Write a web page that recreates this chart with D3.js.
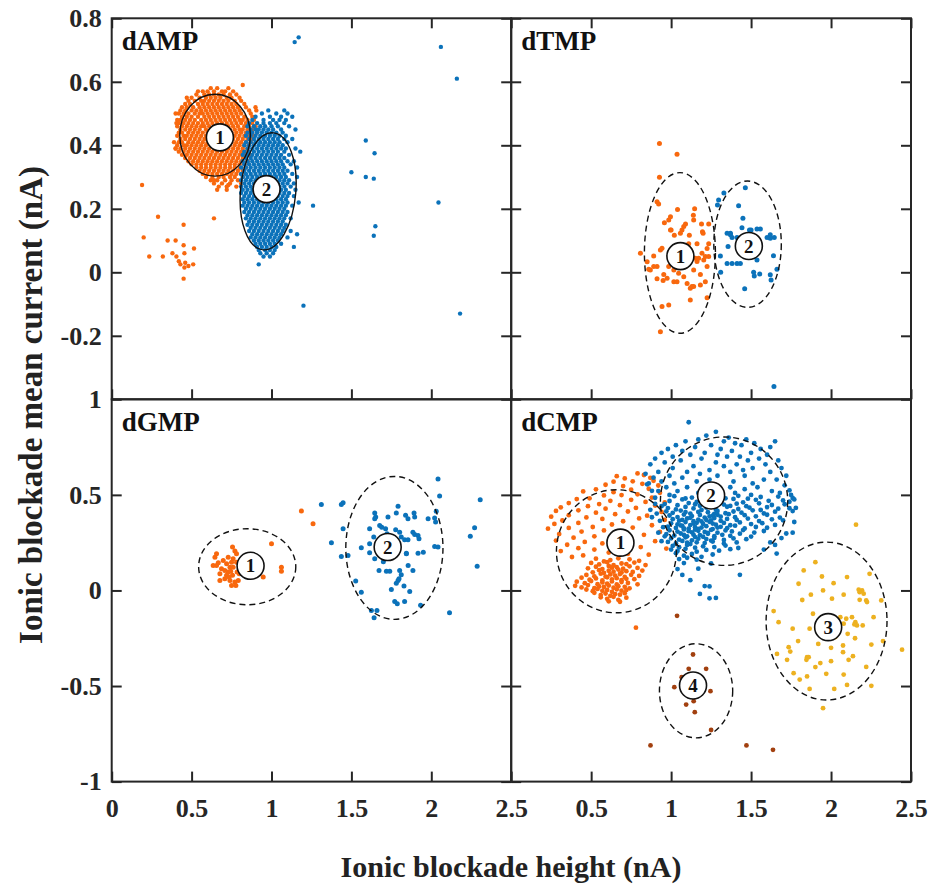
<!DOCTYPE html>
<html><head><meta charset="utf-8">
<script src="https://cdn.jsdelivr.net/npm/d3@7"></script>
<style>body{margin:0;background:#fff}svg{display:block}</style>
</head><body>
<svg id="chart" width="933" height="886"></svg>
<script>
// ---------------- DATA (all values in units of 0.01 nA) ----------------
// "rows" arrays: [y, x1, x2, ...];  "pairs" arrays: [x, y]
const panelNames = ["dAMP", "dTMP", "dGMP", "dCMP"];
const xTickLabels = [0, 0.5, 1, 1.5, 2, 2.5];
const yTickLabelsTop = [0.8, 0.6, 0.4, 0.2, 0, -0.2];
const yTickLabelsBottom = [1, 0.5, 0, -0.5, -1];
const xLabel = "Ionic blockade height (nA)";
const yLabel = "Ionic blockade mean current (nA)";

const dAMP_1_rows = [
 [58,62,66,73],[57,57,60,64,69,71,76],[56,53,58,61,64,67,70,74,78],[55,50,55,59,62,65,68,72,75,80],
 [54,48,52,56,58,61,64,67,70,73,77,81],[53,46,49,54,57,60,63,66,69,72,75,78,83],
 [52,44,47,51,55,58,61,64,67,70,73,76,79,84],[51,43,46,50,53,56,59,62,65,68,71,74,77,80,86],
 [50,42,45,48,52,55,57,60,63,66,69,72,75,78,81,87],[49,44,47,50,54,58,61,64,67,70,73,76,79,83,88],
 [48,41,43,46,49,52,56,59,62,65,68,71,74,77,80,82,85,89],[47,42,45,48,51,54,57,60,63,66,69,72,75,78,81,84,88],
 [46,41,44,47,50,53,56,58,61,64,67,70,73,76,79,83,86,90],[45,43,46,49,52,55,59,62,65,68,71,74,77,80,82,85,88],
 [44,42,44,48,51,54,57,60,63,66,69,72,75,78,81,84,87,91],[43,41,45,47,50,53,56,59,62,65,68,71,74,77,80,83,86,89],
 [42,43,46,49,52,55,58,61,64,67,70,73,76,79,82,85,88],[41,42,44,48,51,54,57,60,63,66,69,72,75,78,81,84,87],
 [40,41,45,47,50,53,56,59,62,65,68,71,74,77,80,83,86],[39,40,43,46,49,52,55,58,61,64,67,70,73,76,79,82,85],
 [38,42,45,48,51,54,57,60,63,66,69,72,75,78,81,84],[37,44,47,50,53,56,59,62,65,68,71,74,77,80,83],
 [36,46,49,52,55,58,61,64,67,70,73,76,79,82],[35,48,51,54,57,60,63,66,69,72,75,78,81,85],
 [34,50,53,56,59,62,65,68,71,74,77,80,83],[33,53,56,59,62,65,68,71,74,77,80,84],
 [32,55,58,61,64,67,70,73,76,79,82],[31,57,60,63,66,69,72,75,78,81],[30,59,63,67,70,74,77,82],
 [29,62,66,71,75,79],[28,64,69,74,81],[27,67,72,78],
 [27.5,19],[11,20],[17.5,29],[5,23.5,32],[10,35,40],[6,38,45.5],[5,40.5],[15,45],[8.5,45],[7.5,51.5],
 [3.5,42],[2.5,43,51],[3,46],[2,48],[1.5,45.5],[-2,45],[17,64],[59,82],[52,90],[51,90.5],[26,66,72],
 [27.5,73],[29,64],[39,40],[41,39],[47,40.5],[50,40],[55,47],[57,54],[35,85],[37,87]
];
const dAMP_2_rows = [
 [51,98,108],[50,94,103,110],[49,90,99,106,113],[48,88,95,101,105,109],[47,86,91,95,99,103,108],
 [46,85,89,93,96,100,104,111],[45,87,90,92,95,98,101,106,115],[44,85,88,91,94,97,100,103,107],
 [43,84,87,90,93,96,99,102,105,109],[42,86,89,92,95,98,101,104,108,113],[41,84,87,90,93,96,99,102,105,110],
 [40,83,86,89,92,95,98,101,104,107],[39,85,88,91,94,97,100,103,106,109,115],[38,83,86,89,92,95,98,101,104,108],
 [37,82,85,88,91,94,97,100,103,106,111],[36,84,87,90,93,96,99,102,105,108],[35,82,85,88,91,94,97,100,103,106,110,114],
 [34,83,86,89,92,95,98,101,104,107,112],[33,81,84,87,90,93,96,99,102,105,108,116],[32,83,86,89,92,95,98,101,104,107,110],
 [31,81,84,87,90,93,96,99,102,105,108,113],[30,82,85,88,91,94,97,100,103,106,109,116],[29,81,84,87,90,93,96,99,102,105,108,111],
 [28,83,86,89,92,95,98,101,104,107,110,114],[27,81,84,87,90,93,96,99,102,105,108,112],[26,82,85,88,91,94,97,100,103,106,109,115],
 [25,81,84,87,90,93,96,99,102,105,108,111],[24,83,86,89,92,95,98,101,104,107,110,114],[23,82,85,88,91,94,97,100,103,106,109],
 [22,83,86,89,92,95,98,101,104,107,110,117],[21,82,85,88,91,94,97,100,103,106,109,113],[20,84,87,90,93,96,99,102,105,108],
 [19,83,86,89,92,95,98,101,104,107,110],[18,85,88,91,94,97,100,103,106,109],[17,84,87,90,93,96,99,102,105,108,112],
 [16,86,89,92,95,98,101,104,107],[15,85,88,91,94,97,100,103,106,109],[14,87,90,93,96,99,102,105,108],
 [13,86,89,92,95,98,101,104,107,112],[12,88,91,94,97,100,103,106],[11,87,90,93,96,99,102,105,110],
 [10,89,92,95,98,101,104],[9,90,93,96,99,102,106],[8,91,94,97,100,103],[7,92,96,99,102],[6,93,97,101],[5,95,99],
 [74,117],[72.5,114.5],[-10.5,120],[2.5,92],[21,126],[41.5,159],[37.5,164.5],[31.5,150],[30,159],[29.5,164],
 [14.5,165],[11.5,164],[71,206],[61,216],[22,204.5],[-13,218],[38,118],[12,116],[8,114]
];
const dTMP_1_rows = [
 [40.6,92.7],[37.2,103.7],[29.9,92.7],[22.2,91.2],[21.5,92.2],[19.8,104],[20,114.7],[18,113.9],[16.5,114.1],
 [17.5,99.6],[15.6,95.8],[16.5,98.5],[14.4,107.9],[13.3,106.8,100],[15.2,109,119,123.5],[12.3,105.8,120],
 [11.7,102,111.4],[7,93.3,112],[7.6,94.3],[6,80.8,119.3],[5.1,89.1],[3.3,85],[0.7,87],[1.8,91.2,89.1,98.5,109,122.5],
 [-0.7,95.4,118.3],[-1.9,97.5],[-3,101.7,103.7,121.4],[-1.4,107.9],[-3.5,110],[-5,112],[-4.5,114.1,113],
 [3.4,116.2],[4.4,117.2,115.1],[3.9,120.4],[5,121.4,123.5],[-0.3,104.7],[2.8,105.8],[0.7,114.1,101.7],
 [-2.6,95],[-2,91.2],[1,86],[-10.3,98.5],[-10.8,94.3],[-8.7,112],[-8,122.5],[-18.7,93.3],[-4,118.3],
 [9,111,116.2,123.5],[12.8,119.6],[7.5,122.5,102.7],[13.3,99.6]
];
const dTMP_2_rows = [
 [25,133],[22.8,129.7],[21.2,129],[26.6,146.4],[21,142.2],[17,144.9],[14,144.3],[13.6,153.7,155.8],[13.3,150],
 [12.3,135,137.1],[11.8,137.1],[11,138.1,141.2,160,164.5],[11.8,162],[10.7,162],[8.1,135.6],[5.1,130.8],[5.2,164],
 [2.8,135,138.1,141.2,143.3],[3.9,153.7],[1,166.2],[0,131,151.6],[-0.5,155.4],[-1.2,152],[-0.8,162],[-2.4,162.5],
 [-5.2,146],[-36,164.3],[11.7,150],[13.3,149]
];
const dGMP_1_rows = [
 [41.5,118.7],[34.9,126],[24.4,100],[12.2,106.2],[10.1,106.2],[7,94.8],[22.7,75.6],[20.6,77.1],[19.2,78.1,65.6],
 [16.6,76],[14.8,75,78.1],[12.2,74,76],[9.6,72.9],[7.9,71.9,75.6],[5.2,74,79.2,67.7],[4.4,77.1],[2.6,75,77.7],
 [17.4,64.6,72.9],[13.1,65.6,63.5],[11.3,68.7],[10.5,70.8],[14,71.9],[15.7,69.8],[8.7,67.7,79.8],[6.1,70.8],
 [11.3,80.2],[9.6,78.5],[14.5,66.7],[10,74.5],[7,73.5]
];
const dGMP_2_rows = [
 [45,131.2,143.7],[45.9,144.8],[25,137.5],[32.3,144.8,161.4,171.4],[17.8,143.7],[18.3,147.9],[4.9,152.7],[-1,156.2],
 [40.5,164.6,178.1,189.2],[38.4,165.2,172.9,189.6],[37.5,164.6,198,185.4],[44,179.2],[34,167.7],[31.8,177.7],
 [30.5,180.2,188.5],[27.9,181.2],[26.5,183.3,185.4],[29.3,189.6],[28.8,191.7],[27.1,192.3],[39.3,183.9],[37.9,202.1],
 [35.8,202.7],[58.3,204.2],[49.4,205.2],[41.4,203.1],[23,202.1],[22.7,204.2],[47.5,230.6],[32.8,227.1],[28.4,224.4],
 [12.6,228.7],[-11.7,211.4],[19.5,191.7,184.4],[19.2,184.4],[22.7,171.9],[21.8,168.7],[19.7,161.4],[22.3,156.2],
 [16.6,164.6],[10.5,167.3],[10.1,171.9,174],[10.5,180.2,188.5],[8.2,181.2],[5.2,179.2],[3.8,178.1],[6.1,179.8],
 [2.3,182.9],[-0.5,186.5],[-7.8,193.3],[-5.8,177.1,183.3],[-7,178.7],[-10.5,162.5,166],[-14.3,164.2],[24.4,161.4],
 [27.9,164],[29.7,172.3],[27.9,176],[15,170],[13,185.5],[25,175],[33,169],[20,195],[0.5,175]
];
const dCMP_1_pairs = [
 [79,61.2],[83,60.4],[66,59.8],[87,58.9],[71,58.6],[76,57.1],[64,56.9],[89,57.4],[82,55.8],[59,55.3],[70,54.6],[92,54.9],
 [86,53.2],[75,52.7],[53,52.9],[64,51.4],[45,51.8],[93,51.1],[79,50.3],[58,49.7],[69,49.9],[88,48.6],[49,48.2],[75,47.4],
 [41,47.8],[62,46.9],[84,46.3],[96,46.0],[55,45.2],[36,45.7],[68,44.6],[48,44.1],[90,44.4],[31,43.5],[59,42.8],[78,43.2],
 [42,41.9],[73,41.3],[28,41.6],[53,40.7],[94,41.1],[65,39.9],[36,39.4],[85,39.1],[25,38.6],[47,38.2],[57,37.4],[80,37.7],
 [32,36.6],[70,36.2],[96,36.9],[42,35.3],[27,34.8],[63,34.5],[88,34.1],[51,33.2],[36,32.7],[76,32.9],[23,32.3],[58,31.4],
 [44,30.8],[93,30.6],[68,30.2],[30,29.5],[83,29.1],[52,28.3],[39,27.6],[62,27.2],[74,26.7],[28,26.1],[46,25.4],[90,25.8],
 [57,24.6],[35,23.9],[67,23.3],[81,22.7],[42,22.1],[52,21.4],[97,21.9],[31,20.6],[61,19.8],[73,19.2],[86,18.7],[45,18.3],[38,17.5],
 [53,16.6],[62,15.9],[74,16.3],[58,15.2],[67,16.8],[80,15.5],
 [50,14.4],[55,13.6],[60,14.8],[64,13.2],[69,14.1],[72,13.8],[77,14.6],[84,13.3],
 [48,11.6],[53,12.4],[57,11.2],[61,12.8],[63,11.9],[66,12.2],[70,11.4],[74,12.6],[79,11.8],
 [51,9.5],[55,10.6],[58,9.2],[61,10.3],[64,9.8],[67,10.9],[69,9.4],[72,10.1],[76,9.7],[82,10.4],
 [47,8.1],[52,7.4],[56,8.8],[59,7.2],[62,8.4],[65,7.8],[68,8.6],[71,7.1],[75,8.2],[80,7.6],
 [44,6.7],[49,5.6],[53,6.3],[57,5.2],[60,6.9],[63,5.8],[66,6.4],[69,5.4],[72,6.1],[77,5.9],
 [41,4.6],[46,3.8],[50,4.9],[54,3.3],[57,4.2],[60,3.6],[63,4.7],[66,3.1],[69,4.4],[73,3.9],[79,3.2],
 [40,2.4],[44,1.6],[48,2.8],[52,1.2],[55,2.1],[58,1.8],[61,2.6],[64,1.4],[67,2.2],[71,1.9],[74,1.1],
 [47,0.5],[51,-0.4],[54,0.8],[57,-0.2],[60,0.3],[63,-0.7],[66,0.6],[69,-0.1],[72,0.2],
 [52,-1.2],[56,-2.4],[59,-1.6],[62,-2.8],[65,-1.9],[68,-2.2],[71,-1.4],
 [56,-3.6],[60,-4.4],[64,-3.3],[67,-4.9],[61,-5.7],[68,-5.9],[72,-3.8],[78,-19.5]
];
const dCMP_2_pairs = [
 [111,88],[128,83],[122,81],[136,80],[147,79],[117,79],[133,78],[109,78],[140,77],[165,78],[152,77],[125,76],[103,76],
 [144,76],[162,75],[115,75],[131,74],[98,74],[138,73],[156,74],[107,73],[150,72],[121,72],[94,72],[129,71],[160,71],
 [112,71],[143,70],[101,70],[135,70],[155,69],[90,69],[119,69],[148,68],[167,68],[106,68],[128,67],[96,67],[141,66],
 [159,66],[87,66],[114,65],[133,65],[101,64],[151,64],[169,64],[124,63],[145,63],[92,62],[110,62],[137,62],[162,62],
 [84,61],[118,61],[99,60],[129,60],[146,60],[172,60],[89,59],[107,59],[124,58],[158,58],[166,58],[94,57],[116,57],
 [139,57],[151,56],[86,56],[102,56],[127,55],[171,55],[97,54],[137,54],[110,54],[154,54],[121,53],[146,53],[92,52],
 [163,52],[104,52],[131,52],[168,51],[117,51],[140,51],[99,50],[150,50],[125,50],[175,50],
 [102,49.3],[113,48.6],[121,49.8],[134,48.2],[142,49.5],[156,48.9],[167,49.1],[176,48.4],[109,48.1],[148,48.0],[128,49.0],
 [99,46.8],[107,47.6],[116,46.3],[124,47.2],[131,46.6],[139,47.9],[145,46.1],[153,47.4],[161,46.9],[170,47.1],[174,46.4],[119,47.8],
 [96,45.2],[104,44.6],[111,45.7],[118,44.3],[126,45.9],[133,44.9],[141,45.4],[147,44.1],[155,45.6],[163,44.7],[171,45.1],[137,44.2],[115,45.1],
 [98,43.1],[103,42.4],[109,43.7],[114,42.9],[122,43.4],[128,42.2],[135,43.8],[142,42.6],[149,43.3],[156,42.1],[160,43.6],[167,42.8],[174,43.0],[119,42.1],
 [97,41.4],[101,40.6],[106,41.8],[112,40.2],[117,41.1],[123,40.9],[129,41.6],[134,40.4],[139,41.3],[144,40.7],[151,41.9],[158,40.3],[165,41.2],[127,40.1],[109,41.0],
 [99,39.2],[104,38.4],[108,39.7],[113,38.9],[118,39.5],[121,38.1],[126,39.1],[131,38.6],[136,39.9],[140,38.3],[146,39.4],[153,38.8],[160,39.6],[112,38.0],[124,38.7],[129,39.6],
 [101,37.3],[105,36.5],[110,37.7],[114,36.2],[117,37.1],[122,36.8],[127,37.9],[131,36.4],[135,37.4],[141,36.9],[148,37.6],[155,36.3],[163,37.2],[170,36.7],[119,36.1],[107,36.9],[125,36.6],
 [100,35.1],[104,34.6],[109,35.8],[112,34.2],[116,35.4],[120,34.8],[124,35.9],[128,34.4],[133,35.3],[137,34.1],[143,35.6],[150,34.7],[157,35.2],[165,34.3],[114,35.0],[126,35.0],[106,34.0],
 [98,33.4],[103,32.7],[107,33.8],[111,32.3],[115,33.1],[119,32.9],[122,33.6],[126,32.1],[131,33.3],[135,32.6],[140,33.9],[146,32.4],[153,33.2],[160,32.8],[117,32.2],[129,32.9],[108,32.5],
 [99,31.5],[104,30.8],[108,31.9],[113,30.4],[117,31.2],[121,30.6],[125,31.7],[129,30.2],[134,31.4],[138,30.9],[145,31.6],[152,30.3],[158,31.1],[111,31.0],[123,30.1],[115,31.8],
 [97,29.4],[102,28.7],[106,29.8],[110,28.3],[114,29.2],[118,28.9],[123,29.6],[127,28.4],[132,29.1],[137,28.6],[143,29.7],[150,28.2],[120,28.1],[108,29.0],
 [100,27.3],[105,26.6],[109,27.8],[113,26.2],[117,27.1],[122,26.9],[127,27.5],[133,26.4],[139,27.2],[147,26.8],[115,27.9],[125,26.1],
 [98,25.4],[103,24.7],[107,25.9],[112,24.3],[116,25.2],[121,24.8],[126,25.6],[133,24.5],[141,25.1],[110,25.0],
 [101,23.3],[105,22.6],[110,23.8],[115,22.4],[120,23.1],[127,22.7],[134,23.5],[142,22.2],
 [100,21.4],[104,20.7],[109,21.8],[116,20.3],[122,21.2],[130,20.8],[137,21.6],
 [103,19.5],[108,18.2],[113,19.1],[119,17.6],[126,18.8],[105,16.4],[116,16.1],[110,17.1],
 [108,14.3],[125,14.1],[104,11.2],[117,11.4],[107,8.1],[143,8.2],[112,5.4],[121,2.3],[124,2.1],[118,-1.8],[124,-4.1],[128,-3.9],
 [166,19.3],[165,23.8],[172,29.8],[176,30.2],[177,35.8],[178,43.2],[177,47.6],[174,52.4],[176,41.5],[169,27.4],[162,25.1],[158,21.4],[168,38.1],
 [90,45.3],[94,44.1],[91,40.2],[93,36.4],[95,33.1],[92,30.2],[88,38.3],[87,42.2],[90,48.5],[96,28.3],[94,25.8],[88,52.1],[85,55.5]
];
const dCMP_3_rows = [
 [34.4,215.6],[14.8,190.2],[10.5,182.9],[7.3,194.3],[3.5,179.7],[3.8,201.6],[8.7,224.1],[0.4,217.3],[0,219.4],
 [-0.9,217.9],[-1.7,220.4],[-5.2,222],[-6.1,222.5],[-4.9,217.9],[-2.2,187.4],[-4.3,200.6],[-2.2,207.9],[-5.2,231.4],
 [-10.8,164.1],[-16.6,167.2],[-12.2,188.7],[-14,205.8,213.1],[-14.8,209.5],[-16.6,215.2],[-18.3,216.2,219.8],
 [-17.8,214.6],[-17.4,207.9],[-22.7,210.4],[-20,186.6],[-14,226.6],[-26.5,232.5],[-24.4,202.7],[-28.8,207.5],
 [-32.3,207.5],[-28.3,225.2],[-26.5,179.4],[-29.7,173.5],[-32,174.5],[-33.2,166.2],[-36.3,172.5],[-34.9,185,186],
 [-36.3,184.6],[-38,193.3],[-40.1,190.2],[-37,200],[-34.4,213.7],[-36.3,211],[-43.3,176.6],[-45,185],[-46.6,180.4],
 [-43.6,197],[-44,207.9],[-51.5,186.6],[-51.5,202],[-49.4,210],[-49.9,225.2],[-31,244.4],[-61.6,195],
 [-17.4,193.3],[-16.6,203.7],[0,195],[7,210],[-20,176],[-40,222],[-28,192],[-30,200],[-25,215],[-5,182]
];
const dCMP_4_rows = [
 [-13.3,103.7],[-33.5,113.7],[-41,111,121.9],[-45.4,106.6,110],[-50.6,102],[-52.7,124.6],[-57.9,114.1],[-59.7,109.4],
 [-63.7,114.8],[-73,125],[-81.1,87.1,147.1],[-83.4,163.7]
];
// cluster ellipses: centre x, centre y, semi-axis x, semi-axis y (nA), tilt (deg), label x, label y, label
const dAMP_ellipses = [[0.647,0.432,0.221,0.129,0,0.677,0.425,"1"],[0.979,0.255,0.173,0.185,5,0.969,0.262,"2"]];
const dTMP_ellipses = [[1.055,0.061,0.222,0.253,0,1.058,0.051,"1"],[1.478,0.0885,0.211,0.199,0,1.486,0.083,"2"]];
const dGMP_ellipses = [[0.848,0.124,0.304,0.199,0,0.869,0.129,"1"],[1.769,0.2225,0.304,0.374,0,1.727,0.227,"2"]];
const dCMP_ellipses = [[0.658,0.205,0.375,0.322,0,0.683,0.25,"1"],[1.331,0.467,0.398,0.336,0,1.25,0.497,"2"],
  [1.972,-0.16,0.378,0.413,0,1.982,-0.192,"3"],[1.156,-0.525,0.229,0.246,0,1.137,-0.497,"4"]];

// ---------------- DRAWING ----------------
const ORANGE = "#F8680E", BLUE = "#0B72BA", YELLOW = "#EDB120", BROWN = "#A2400F";
const FONT = "'Liberation Serif','Times New Roman',serif";
const INK = "#262626";

function fromRows(rows) {
  const pts = [];
  rows.forEach(r => { const y = r[0] / 100; r.slice(1).forEach(x => pts.push([x / 100, y])); });
  return pts;
}
function fromPairs(pairs) { return pairs.map(p => [p[0] / 100, p[1] / 100]); }

const svg = d3.select("#chart");
svg.append("rect").attr("width", 933).attr("height", 886).attr("fill", "#fff");

const colX = [[111.7, 511.2], [511.2, 911]];
const rowY = [[18.3, 399.3], [399.3, 781.6]];

const panels = [
  {name: panelNames[0], col: 0, row: 0, r: 2.2, dashed: false, ell: dAMP_ellipses,
   series: [[fromRows(dAMP_1_rows), ORANGE], [fromRows(dAMP_2_rows), BLUE]]},
  {name: panelNames[1], col: 1, row: 0, r: 2.5, dashed: true, ell: dTMP_ellipses,
   series: [[fromRows(dTMP_1_rows), ORANGE], [fromRows(dTMP_2_rows), BLUE]]},
  {name: panelNames[2], col: 0, row: 1, r: 2.5, dashed: true, ell: dGMP_ellipses,
   series: [[fromRows(dGMP_1_rows), ORANGE], [fromRows(dGMP_2_rows), BLUE]]},
  {name: panelNames[3], col: 1, row: 1, r: 2.4, dashed: true, ell: dCMP_ellipses,
   series: [[fromPairs(dCMP_1_pairs), ORANGE], [fromPairs(dCMP_2_pairs), BLUE],
            [fromRows(dCMP_3_rows), YELLOW], [fromRows(dCMP_4_rows), BROWN]]}
];

function styleAxis(g, fs) {
  g.select(".domain").remove();
  g.attr("color", INK).attr("font-family", FONT).attr("font-weight", "bold").attr("font-size", fs);
  g.selectAll(".tick line").attr("stroke-width", 2);
}

panels.forEach(p => {
  const [x0, x1] = colX[p.col];
  const [y0, y1] = rowY[p.row];
  const xs = d3.scaleLinear().domain([0, 2.5]).range([x0, x1]);
  const ys = p.row === 0 ? d3.scaleLinear().domain([-0.4, 0.8]).range([y1, y0])
                         : d3.scaleLinear().domain([-1, 1]).range([y1, y0]);
  const g = svg.append("g");

  p.series.forEach(([pts, color]) => {
    g.append("g").selectAll("circle").data(pts).join("circle")
      .attr("cx", d => xs(d[0])).attr("cy", d => ys(d[1])).attr("r", p.r).attr("fill", color);
  });

  p.ell.forEach(e => {
    const cx = xs(e[0]), cy = ys(e[1]);
    g.append("ellipse").attr("cx", cx).attr("cy", cy)
      .attr("rx", xs(e[0] + e[2]) - cx).attr("ry", cy - ys(e[1] + e[3]))
      .attr("transform", `rotate(${e[4]},${cx},${cy})`)
      .attr("fill", "none").attr("stroke", "#111").attr("stroke-width", 1.4)
      .attr("stroke-dasharray", p.dashed ? "6,4" : null);
  });
  p.ell.forEach(e => {
    const lx = xs(e[5]), ly = ys(e[6]);
    g.append("circle").attr("cx", lx).attr("cy", ly).attr("r", 13.5)
      .attr("fill", "#fff").attr("stroke", "#111").attr("stroke-width", 1.6);
    g.append("text").attr("x", lx).attr("y", ly).attr("dy", "0.35em").attr("text-anchor", "middle")
      .attr("font-family", FONT).attr("font-weight", "bold").attr("font-size", 19).attr("fill", "#111").text(e[7]);
  });

  g.append("text").attr("x", x0 + 10).attr("y", y0 + 32).attr("font-family", FONT).attr("font-weight", "bold")
    .attr("font-size", 27).attr("fill", "#111").text(p.name);

  const yVals = p.row === 0 ? yTickLabelsTop : yTickLabelsBottom;
  const fmt = d => String(d);
  const left = g.append("g").attr("transform", `translate(${x0},0)`)
    .call(d3.axisLeft(ys).tickValues(yVals).tickSize(-10).tickPadding(10)
      .tickFormat(p.col === 0 ? fmt : () => ""));
  styleAxis(left, 26);
  const right = g.append("g").attr("transform", `translate(${x1},0)`)
    .call(d3.axisRight(ys).tickValues(yVals).tickSize(-10).tickFormat(() => ""));
  styleAxis(right, 26);
  const xVals = p.col === 0 ? xTickLabels : xTickLabels.slice(1);
  const bottom = g.append("g").attr("transform", `translate(0,${y1})`)
    .call(d3.axisBottom(xs).tickValues(xVals).tickSize(-10).tickPadding(17)
      .tickFormat(p.row === 1 ? fmt : () => ""));
  styleAxis(bottom, 26);
  if (p.row === 0) {
    const top = g.append("g").attr("transform", `translate(0,${y0})`)
      .call(d3.axisTop(xs).tickValues(xVals).tickSize(-10).tickFormat(() => ""));
    styleAxis(top, 26);
  }

  g.append("rect").attr("x", x0).attr("y", y0).attr("width", x1 - x0).attr("height", y1 - y0)
    .attr("fill", "none").attr("stroke", INK).attr("stroke-width", 2);
});

svg.append("text").attr("x", 511).attr("y", 877).attr("text-anchor", "middle")
  .attr("font-family", FONT).attr("font-weight", "bold").attr("font-size", 30).attr("fill", "#222").text(xLabel);
svg.append("text").attr("transform", "translate(42,405) rotate(-90)").attr("text-anchor", "middle")
  .attr("font-family", FONT).attr("font-weight", "bold").attr("font-size", 33).attr("fill", "#222").text(yLabel);
</script>
</body></html>
